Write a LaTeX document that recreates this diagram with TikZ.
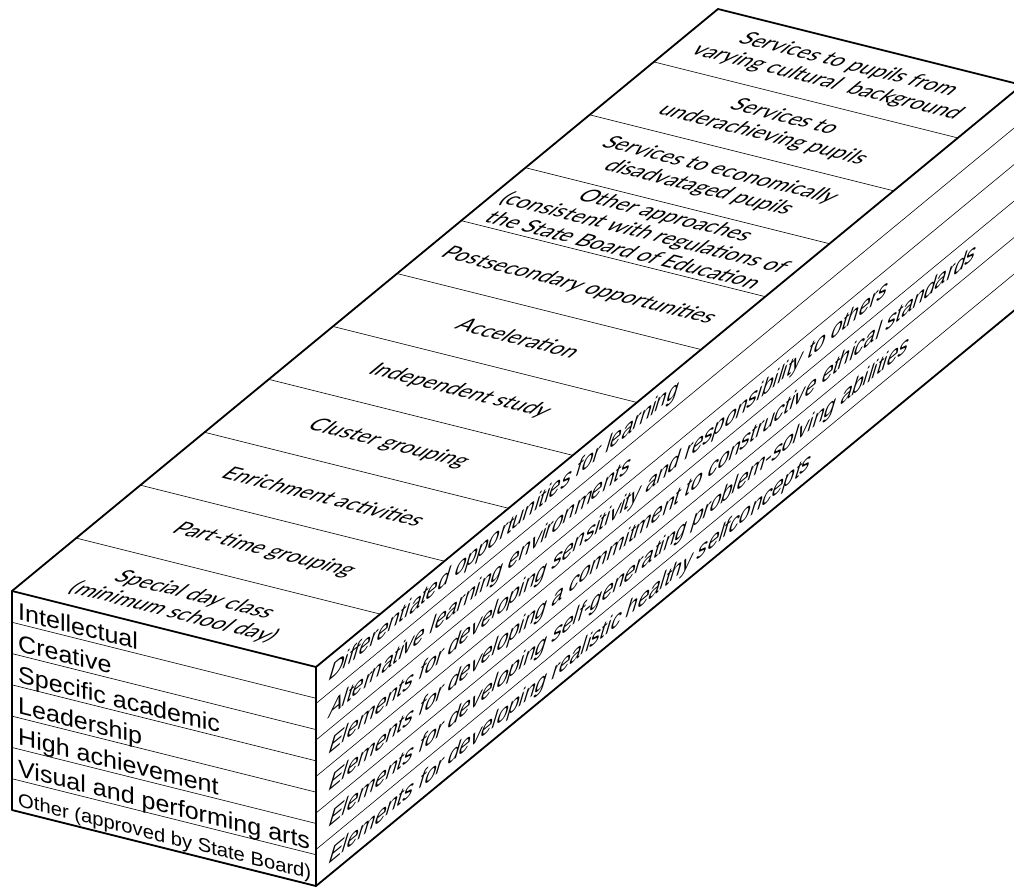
\documentclass[tikz,border=0pt]{standalone}
\usepackage{fontspec}
\setmainfont{Liberation Sans}
\newfontfamily\obenfont{Lato}

\begin{document}
\begin{tikzpicture}[x=1pt, y=-1pt,
  rand/.style={line width=1.8pt, line join=round},
  teil/.style={line width=0.6pt},
  oben/.style={inner sep=0pt, align=center,
    font=\obenfont\fontsize{22}{25}\selectfont,
    cm={0.970,-0.2425,0.849,0.700,(0,0)}},
  vorne/.style={inner sep=0pt, anchor=base west,
    font=\fontsize{21.7}{24}\selectfont,
    cm={1.154,-0.2885,0,1.1,(0,0)}},
  seite/.style={inner sep=0pt, anchor=base west,
    font=\fontsize{23.5}{26}\selectfont,
    cm={0.8636,0.712,0.34,1.13,(0,0)}}]
\useasboundingbox (0,0) rectangle (1014,886);
\clip (0,0) rectangle (1014,886);

% Eckpunkte
\coordinate (vol) at (12,591);
\coordinate (vor) at (316,667);
\coordinate (vur) at (316,886);
\coordinate (vul) at (12,810);
\coordinate (hol) at (718,9);
\coordinate (hor) at (1022,85);
\coordinate (hur) at (1022,304);

% Oberseite: Streifen
\draw[teil] (76.18,538.09) -- (380.18,614.09);
\draw[teil] (140.36,485.18) -- (444.36,561.18);
\draw[teil] (204.55,432.27) -- (508.55,508.27);
\draw[teil] (268.73,379.36) -- (572.73,455.36);
\draw[teil] (332.91,326.45) -- (636.91,402.45);
\draw[teil] (397.09,273.55) -- (701.09,349.55);
\draw[teil] (461.27,220.64) -- (765.27,296.64);
\draw[teil] (525.45,167.73) -- (829.45,243.73);
\draw[teil] (589.64,114.82) -- (893.64,190.82);
\draw[teil] (653.82,61.91) -- (957.82,137.91);

% Vorderseite: Zeilen
\draw[teil] (12,622.29) -- (316,698.29);
\draw[teil] (12,653.57) -- (316,729.57);
\draw[teil] (12,684.86) -- (316,760.86);
\draw[teil] (12,716.14) -- (316,792.14);
\draw[teil] (12,747.43) -- (316,823.43);
\draw[teil] (12,778.71) -- (316,854.71);

% Seitenflaeche: Streifen
\draw[teil] (316,703.5) -- (1022,121.5);
\draw[teil] (316,740) -- (1022,158);
\draw[teil] (316,776.5) -- (1022,194.5);
\draw[teil] (316,813) -- (1022,231);
\draw[teil] (316,849.5) -- (1022,267.5);

% Umriss
\draw[rand] (vol) -- (vor) -- (vur) -- (vul) -- cycle;
\draw[rand] (vol) -- (hol) -- (hor) -- (vor);
\draw[rand] (hor) -- (hur) -- (vur);

% Beschriftung oben
\node[oben] (tag) at (184,604) {Special day class\\(minimum school day)};
\node[oben] (teilzeit) at (264,550) {Part-time grouping};
\node[oben] (enrich) at (324.5,496.7) {Enrichment activities};
\node[oben] (cluster) at (388.6,443.8) {Cluster grouping};
\node[oben] (indep) at (460,391) {Independent study};
\node[oben] (accel) at (519,338.0) {Acceleration};
\node[oben] (postsec) at (579,286) {Postsecondary opportunities};
\node[oben] (other) at (645.4,232.2) {Other approaches\\(consistent with regulations of\\the State Board of Education};
\node[oben] (econ) at (709.5,179.2) {Services to economically\\disadvataged pupils};
\node[oben] (under) at (773.7,126.3) {Services to\\underachieving pupils};
\node[oben] (cultural) at (837.9,73.4) {Services to pupils from\\varying cultural\ \ background};

% Beschriftung vorne
\node[vorne] (intel) at (18,619.8) {Intellectual};
\node[vorne] (creat) at (18,651.1) {Creative};
\node[vorne] (acad) at (18,682.4) {Specific academic};
\node[vorne] (lead) at (18,713.6) {Leadership};
\node[vorne] (high) at (18,744.9) {High achievement};
\node[vorne] (arts) at (18,776.2) {Visual and performing arts};
\node[vorne, font=\fontsize{17.5}{20}\selectfont] (board) at (18,806) {Other (approved by State Board)};

% Beschriftung Seite
\node[seite] (diff) at (327,682.9) {Differentiated opportunities for learning};
\node[seite] (alt) at (327,719.4) {Alternative learning environments};
\node[seite] (sens) at (327,755.9) {Elements for developing sensitivity and responsibility to others};
\node[seite] (ethic) at (327,792.4) {Elements for developing a commitment to constructive ethical standards};
\node[seite] (prob) at (327,828.9) {Elements for developing self-generating problem-solving abilities};
\node[seite] (self) at (327,865.4) {Elements for developing realistic healthy selfconcepts};
\end{tikzpicture}
\end{document}
